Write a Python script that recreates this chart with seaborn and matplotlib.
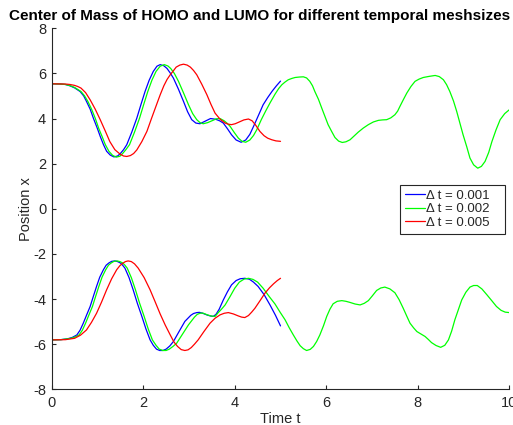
import pandas as pd
import matplotlib
matplotlib.use("Agg")
import matplotlib.pyplot as plt
import seaborn as sns

# values, (time t, position x)
runs = ["0.001", "0.002", "0.005"]
run_colors = {"0.001": "#0000ff", "0.002": "#00ff00", "0.005": "#ff0000"}

# dt = 0.001
blue_homo = [(0, 5.54), (0.2, 5.53), (0.3, 5.51), (0.4, 5.45), (0.5, 5.36), (0.62, 5.20), (0.7, 5.0),
             (0.76, 4.76), (0.84, 4.42), (0.91, 4.02), (1.0, 3.55), (1.06, 3.21), (1.13, 2.85), (1.20, 2.55),
             (1.28, 2.38), (1.36, 2.30), (1.44, 2.34), (1.50, 2.45), (1.57, 2.62), (1.64, 2.84), (1.75, 3.40),
             (1.86, 4.02), (1.95, 4.62), (2.04, 5.20), (2.13, 5.70), (2.22, 6.09), (2.30, 6.32), (2.37, 6.39),
             (2.45, 6.34), (2.52, 6.22), (2.59, 6.02), (2.66, 5.79), (2.77, 5.30), (2.88, 4.76), (2.97, 4.30),
             (3.06, 3.95), (3.15, 3.80), (3.24, 3.77), (3.35, 3.88), (3.47, 4.00), (3.58, 3.97), (3.67, 3.90),
             (3.75, 3.80), (3.84, 3.55), (3.93, 3.28), (4.03, 3.05), (4.14, 2.95), (4.24, 3.05), (4.33, 3.30),
             (4.41, 3.65), (4.52, 4.15), (4.62, 4.61), (4.72, 4.93), (4.82, 5.22), (4.91, 5.45), (5.0, 5.66)]
blue_lumo = [(0, -5.81), (0.2, -5.80), (0.35, -5.76), (0.45, -5.70), (0.55, -5.59), (0.62, -5.38),
             (0.69, -5.07), (0.76, -4.72), (0.84, -4.33), (0.91, -3.88), (0.98, -3.44), (1.05, -3.03),
             (1.13, -2.70), (1.19, -2.50), (1.25, -2.40), (1.31, -2.33), (1.38, -2.31), (1.44, -2.34),
             (1.50, -2.40), (1.55, -2.50), (1.60, -2.63), (1.69, -3.05), (1.78, -3.59), (1.87, -4.18),
             (1.97, -4.77), (2.06, -5.33), (2.15, -5.81), (2.22, -6.05), (2.29, -6.22), (2.36, -6.28),
             (2.43, -6.28), (2.50, -6.22), (2.58, -6.08), (2.66, -5.88), (2.78, -5.45), (2.91, -4.99),
             (3.04, -4.72), (3.10, -4.64), (3.17, -4.60), (3.23, -4.59), (3.30, -4.63), (3.40, -4.71),
             (3.47, -4.75), (3.53, -4.77), (3.59, -4.68), (3.66, -4.45), (3.75, -4.04), (3.84, -3.68),
             (3.93, -3.37), (4.03, -3.18), (4.12, -3.10), (4.22, -3.08), (4.32, -3.12), (4.41, -3.25),
             (4.51, -3.44), (4.64, -3.80), (4.77, -4.26), (4.89, -4.72), (5.0, -5.19)]

# dt = 0.002
green_homo = [(0, 5.54), (0.2, 5.53), (0.3, 5.51), (0.4, 5.46), (0.5, 5.38), (0.64, 5.20), (0.72, 5.0),
              (0.79, 4.76), (0.87, 4.42), (0.95, 4.02), (1.03, 3.55), (1.10, 3.21), (1.17, 2.85), (1.25, 2.55),
              (1.33, 2.37), (1.41, 2.29), (1.49, 2.33), (1.55, 2.45), (1.62, 2.62), (1.70, 2.84), (1.81, 3.40),
              (1.92, 4.02), (2.01, 4.62), (2.10, 5.20), (2.19, 5.70), (2.28, 6.09), (2.37, 6.32), (2.46, 6.39),
              (2.54, 6.33), (2.60, 6.22), (2.68, 6.00), (2.77, 5.65), (2.88, 5.14), (2.99, 4.61), (3.08, 4.22),
              (3.17, 3.95), (3.24, 3.82), (3.31, 3.77), (3.41, 3.82), (3.50, 3.90), (3.60, 3.99), (3.68, 4.00),
              (3.77, 3.90), (3.84, 3.78), (3.90, 3.65), (3.99, 3.38), (4.08, 3.13), (4.16, 2.99), (4.24, 2.95),
              (4.33, 3.05), (4.41, 3.25), (4.48, 3.50), (4.58, 3.95), (4.68, 4.35), (4.77, 4.69), (4.88, 5.08),
              (4.96, 5.33), (5.03, 5.50), (5.10, 5.62), (5.17, 5.72), (5.25, 5.78), (5.32, 5.82), (5.41, 5.84),
              (5.50, 5.85), (5.57, 5.80), (5.64, 5.65), (5.70, 5.45), (5.75, 5.20), (5.83, 4.85), (5.90, 4.47),
              (5.97, 4.10), (6.04, 3.73), (6.12, 3.42), (6.19, 3.16), (6.27, 3.00), (6.35, 2.94), (6.43, 2.97),
              (6.52, 3.06), (6.61, 3.23), (6.70, 3.40), (6.81, 3.58), (6.92, 3.73), (7.03, 3.85), (7.14, 3.92),
              (7.23, 3.94), (7.32, 3.95), (7.41, 4.03), (7.50, 4.17), (7.56, 4.33), (7.61, 4.54), (7.68, 4.82),
              (7.76, 5.13), (7.85, 5.42), (7.94, 5.65), (8.03, 5.75), (8.12, 5.82), (8.25, 5.87), (8.38, 5.91),
              (8.47, 5.86), (8.56, 5.72), (8.63, 5.50), (8.70, 5.20), (8.78, 4.78), (8.85, 4.32), (8.92, 3.80),
              (8.99, 3.28), (9.07, 2.75), (9.14, 2.25), (9.22, 1.95), (9.31, 1.80), (9.39, 1.88), (9.47, 2.10),
              (9.55, 2.50), (9.62, 2.98), (9.71, 3.50), (9.80, 3.95), (9.90, 4.22), (10.0, 4.39)]
green_lumo = [(0, -5.81), (0.2, -5.80), (0.4, -5.75), (0.5, -5.69), (0.6, -5.59), (0.67, -5.38),
              (0.74, -5.07), (0.81, -4.72), (0.89, -4.33), (0.96, -3.88), (1.03, -3.44), (1.10, -3.03),
              (1.18, -2.70), (1.24, -2.50), (1.30, -2.40), (1.36, -2.33), (1.43, -2.31), (1.49, -2.34),
              (1.55, -2.40), (1.60, -2.50), (1.65, -2.63), (1.74, -3.05), (1.83, -3.59), (1.92, -4.18),
              (2.02, -4.77), (2.11, -5.33), (2.20, -5.81), (2.28, -6.05), (2.35, -6.22), (2.43, -6.28),
              (2.50, -6.28), (2.57, -6.22), (2.65, -6.10), (2.73, -5.96), (2.86, -5.55), (2.99, -5.14),
              (3.12, -4.80), (3.18, -4.68), (3.24, -4.63), (3.30, -4.62), (3.40, -4.70), (3.48, -4.75),
              (3.57, -4.77), (3.64, -4.60), (3.71, -4.45), (3.79, -4.26), (3.90, -3.88), (4.00, -3.52),
              (4.10, -3.25), (4.20, -3.12), (4.30, -3.08), (4.40, -3.13), (4.50, -3.25), (4.62, -3.52),
              (4.75, -3.88), (4.88, -4.22), (4.99, -4.58), (5.10, -4.92), (5.19, -5.27), (5.28, -5.59),
              (5.36, -5.86), (5.43, -6.07), (5.50, -6.20), (5.57, -6.28), (5.65, -6.23), (5.72, -6.10),
              (5.79, -5.88), (5.86, -5.59), (5.94, -5.18), (6.01, -4.77), (6.08, -4.45), (6.15, -4.21),
              (6.24, -4.10), (6.34, -4.07), (6.43, -4.10), (6.52, -4.15), (6.63, -4.22), (6.74, -4.26),
              (6.83, -4.19), (6.92, -4.07), (7.01, -3.85), (7.10, -3.62), (7.19, -3.51), (7.28, -3.47),
              (7.39, -3.55), (7.50, -3.72), (7.59, -4.02), (7.68, -4.40), (7.76, -4.76), (7.83, -5.07),
              (7.91, -5.28), (7.98, -5.44), (8.07, -5.55), (8.16, -5.66), (8.23, -5.79), (8.30, -5.93),
              (8.40, -6.06), (8.50, -6.14), (8.59, -6.05), (8.67, -5.81), (8.74, -5.42), (8.81, -4.92),
              (8.89, -4.45), (8.96, -4.04), (9.05, -3.70), (9.14, -3.47), (9.22, -3.40), (9.30, -3.40),
              (9.40, -3.55), (9.51, -3.81), (9.62, -4.08), (9.72, -4.33), (9.82, -4.50), (9.91, -4.58),
              (10.0, -4.60)]

# dt = 0.005
red_homo = [(0, 5.54), (0.3, 5.53), (0.4, 5.51), (0.5, 5.47), (0.57, 5.42), (0.64, 5.35), (0.74, 5.15),
            (0.84, 4.83), (0.95, 4.42), (1.06, 3.95), (1.17, 3.45), (1.27, 2.98), (1.38, 2.62), (1.49, 2.43),
            (1.57, 2.34), (1.64, 2.32), (1.72, 2.36), (1.79, 2.45), (1.86, 2.61), (1.97, 2.98), (2.08, 3.43),
            (2.18, 4.00), (2.29, 4.61), (2.37, 5.05), (2.45, 5.45), (2.52, 5.73), (2.59, 5.94), (2.66, 6.12),
            (2.72, 6.28), (2.80, 6.37), (2.88, 6.41), (2.96, 6.37), (3.03, 6.28), (3.10, 6.13), (3.17, 5.94),
            (3.28, 5.52), (3.39, 5.06), (3.48, 4.63), (3.57, 4.24), (3.68, 3.97), (3.79, 3.80), (3.86, 3.75),
            (3.93, 3.73), (4.01, 3.77), (4.10, 3.85), (4.20, 3.94), (4.30, 3.98), (4.38, 3.90), (4.46, 3.70),
            (4.55, 3.43), (4.64, 3.24), (4.72, 3.13), (4.81, 3.06), (4.90, 3.01), (5.0, 2.99)]
red_lumo = [(0, -5.81), (0.3, -5.80), (0.5, -5.74), (0.63, -5.60), (0.76, -5.37), (0.87, -5.03),
            (0.98, -4.63), (1.09, -4.13), (1.20, -3.59), (1.31, -3.10), (1.42, -2.70), (1.49, -2.52),
            (1.55, -2.42), (1.61, -2.34), (1.67, -2.31), (1.74, -2.34), (1.81, -2.44), (1.89, -2.63),
            (2.02, -3.05), (2.15, -3.59), (2.26, -4.12), (2.37, -4.66), (2.48, -5.15), (2.59, -5.59),
            (2.67, -5.90), (2.75, -6.10), (2.83, -6.24), (2.91, -6.28), (2.98, -6.25), (3.05, -6.15),
            (3.12, -6.00), (3.20, -5.81), (3.33, -5.43), (3.46, -5.07), (3.57, -4.85), (3.68, -4.70),
            (3.77, -4.63), (3.86, -4.60), (3.97, -4.66), (4.08, -4.75), (4.15, -4.80), (4.22, -4.82),
            (4.30, -4.73), (4.37, -4.58), (4.44, -4.41), (4.55, -4.08), (4.66, -3.74), (4.76, -3.50),
            (4.85, -3.32), (4.93, -3.18), (5.0, -3.08)]

series = [
    ("0.001", "HOMO", blue_homo),
    ("0.001", "LUMO", blue_lumo),
    ("0.002", "HOMO", green_homo),
    ("0.002", "LUMO", green_lumo),
    ("0.005", "HOMO", red_homo),
    ("0.005", "LUMO", red_lumo),
]
frames = []
for dt, orb, pts in series:
    d = pd.DataFrame(pts, columns=["t", "x"])
    d["dt"] = dt
    d["orbital"] = orb
    frames.append(d)
df = pd.concat(frames, ignore_index=True)

sns.set_style("ticks")
plt.rcParams["font.family"] = ["Liberation Sans", "DejaVu Sans"]
plt.rcParams["xtick.direction"] = "in"
plt.rcParams["ytick.direction"] = "in"
plt.rcParams["axes.unicode_minus"] = False

dark = "#262626"
fig = plt.figure(figsize=(5.13, 4.25), dpi=100)
ax = fig.add_axes([0.1008, 0.084, 0.892, 0.8494])

sns.lineplot(data=df, x="t", y="x", hue="dt", hue_order=runs, units="orbital",
             estimator=None, sort=False, palette=run_colors, linewidth=0.9, ax=ax)

ax.set_xlim(0, 10)
ax.set_ylim(-8, 8)
ax.set_xticks(range(0, 11, 2))
ax.set_yticks(range(-8, 9, 2))
sns.despine(ax=ax)
for s in ["left", "bottom"]:
    ax.spines[s].set_color(dark)
    ax.spines[s].set_linewidth(0.8)
ax.tick_params(axis="both", colors=dark, labelsize=10.5, length=3, width=0.8)
ax.tick_params(axis="y", pad=4)
ax.tick_params(axis="x", pad=4.5)

ax.set_xlabel("Time t", fontsize=10.5, color=dark, labelpad=2)
ax.set_ylabel("Position x", fontsize=10.5, color=dark, labelpad=0)

fig.text(260 / 513, 1 - 16 / 425, "Center of Mass of HOMO and LUMO for different temporal meshsizes",
         ha="center", va="center", fontsize=11, fontweight="bold", color="black")

handles, labels = ax.get_legend_handles_labels()
leg = ax.legend(handles, ["\u0394 t = " + l + "   " for l in labels], loc="upper right",
                bbox_to_anchor=(0.991, 0.566), fontsize=9.5, handlelength=1.5,
                handletextpad=0.1, labelspacing=0.1, borderpad=0.35, borderaxespad=0,
                fancybox=False, framealpha=1, edgecolor=dark)
leg.get_frame().set_linewidth(0.8)

fig.savefig("out.png", dpi=100)
